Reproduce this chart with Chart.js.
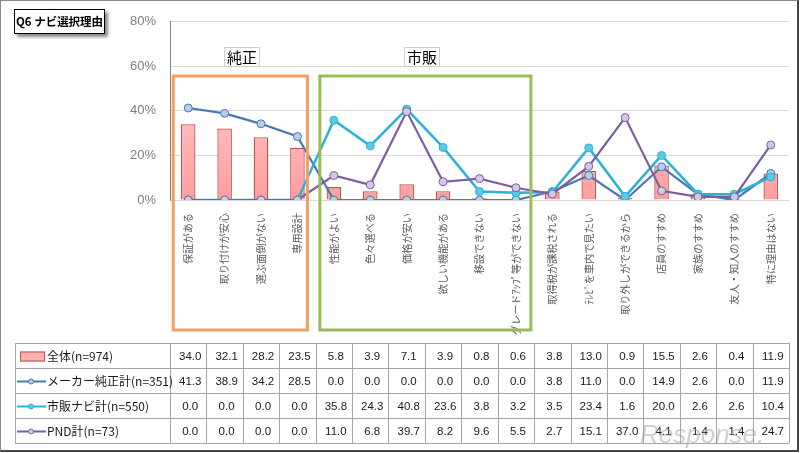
<!DOCTYPE html>
<html>
<head>
<meta charset="utf-8">
<script src="https://cdn.jsdelivr.net/npm/chart.js@4.4.0/dist/chart.umd.min.js"></script>
<style>
  html, body { margin: 0; padding: 0; background: #fff; }
  #wrap { position: relative; width: 800px; height: 453px; overflow: hidden; }
  #frame { position: absolute; left: 0; top: 0; width: 796px; height: 449px;
           border: 1px solid #8a8a8a; border-right: 2px solid #444; border-bottom: 2px solid #444; }
  #title { position: absolute; left: 14px; top: 9px; width: 89px; height: 23px; border: 1px solid #000;
           background: #fff; box-shadow: 3px 3px 3px #8c8c8c; font: bold 11.5px "Noto Sans CJK JP";
           line-height: 23px; text-align: center; color: #000; }
  .tag { position: absolute; top: 47px; height: 18px; padding: 0 2px; border: 1px solid #cfcfcf;
         background: #fff; font: 15px "Noto Sans CJK JP"; line-height: 18px; color: #000; }
  canvas { position: absolute; left: 0; top: 0; }
</style>
</head>
<body>
<div id="wrap">
  <canvas id="myChart" width="800" height="453"></canvas>
  <div id="frame"></div>
  <div id="title">Q6 ナビ選択理由</div>
  <div class="tag" style="left:224px">純正</div>
  <div class="tag" style="left:404px">市販</div>
</div>
<script>
// categories (x axis)
var categories = ["保証がある", "取り付けが安心", "選ぶ面倒がない", "専用設計", "性能がよい", "色々選べる",
  "価格が安い", "欲しい機能がある", "移設できない", "グレードｱｯﾌﾟ等ができない", "取得税が課税される",
  "ﾃﾚﾋﾞを車内で見たい", "取り外しができるから", "店員のすすめ", "家族のすすめ", "友人・知人のすすめ", "特に理由はない"];

// series values (%)
var allTotal  = [34.0, 32.1, 28.2, 23.5, 5.8, 3.9, 7.1, 3.9, 0.8, 0.6, 3.8, 13.0, 0.9, 15.5, 2.6, 0.4, 11.9];
var makerNavi = [41.3, 38.9, 34.2, 28.5, 0.0, 0.0, 0.0, 0.0, 0.0, 0.0, 3.8, 11.0, 0.0, 14.9, 2.6, 0.0, 11.9];
var shopNavi  = [0.0, 0.0, 0.0, 0.0, 35.8, 24.3, 40.8, 23.6, 3.8, 3.2, 3.5, 23.4, 1.6, 20.0, 2.6, 2.6, 10.4];
var pndNavi   = [0.0, 0.0, 0.0, 0.0, 11.0, 6.8, 39.7, 8.2, 9.6, 5.5, 2.7, 15.1, 37.0, 4.1, 1.4, 1.4, 24.7];

var seriesNames = ["全体(n=974)", "メーカー純正計(n=351)", "市販ナビ計(n=550)", "PND計(n=73)"];

// y axis ticks
var yTicks = [0, 20, 40, 60, 80];

var ctx = document.getElementById("myChart").getContext("2d");

// pink gradient for the bars (lighter at the top)
var barGrad = ctx.createLinearGradient(0, 40, 0, 200);
barGrad.addColorStop(0, "#ffdada");
barGrad.addColorStop(1, "#ff9e9e");

var lineColors = ["#4a78b0", "#2bb3d5", "#7b5fa0"];
var pointFills = ["#b9cdea", "#5cc9e6", "#d2c8e6"];

// orange / green group boxes + data table under the chart
var extrasPlugin = {
  id: "extras",
  afterDraw: function(chart) {
    var c = chart.ctx;
    var xs = chart.scales.x;
    var area = chart.chartArea;
    var step = (area.right - area.left) / categories.length;

    c.save();
    // group boxes
    c.lineWidth = 3;
    c.strokeStyle = "#f0a060";
    c.strokeRect(xs.getPixelForValue(0) - 15, 76, (xs.getPixelForValue(3) + 10) - (xs.getPixelForValue(0) - 15), 254);
    c.strokeStyle = "#9bbb59";
    c.strokeRect(xs.getPixelForValue(4) - 14, 76, (xs.getPixelForValue(9) + 15) - (xs.getPixelForValue(4) - 14), 254);

    // data table
    var top = 343, rowH = 25, left = 15;
    var rows = [allTotal, makerNavi, shopNavi, pndNavi];
    c.lineWidth = 1;
    c.strokeStyle = "#a6a6a6";
    for (var r = 0; r <= rows.length; r++) {
      c.beginPath();
      c.moveTo(left, top + r * rowH + 0.5);
      c.lineTo(area.right, top + r * rowH + 0.5);
      c.stroke();
    }
    c.beginPath();
    c.moveTo(left + 0.5, top);
    c.lineTo(left + 0.5, top + rows.length * rowH);
    c.stroke();
    for (var i = 0; i <= categories.length; i++) {
      var lx = Math.round(area.left + i * step) + 0.5;
      c.beginPath();
      c.moveTo(lx, top);
      c.lineTo(lx, top + rows.length * rowH);
      c.stroke();
    }

    c.textBaseline = "middle";
    for (var r = 0; r < rows.length; r++) {
      var cy = top + r * rowH + rowH / 2 + 1;
      // legend key
      if (r === 0) {
        c.fillStyle = "#ffb0b0";
        c.strokeStyle = "#c0504d";
        c.fillRect(20, cy - 5, 25, 10);
        c.strokeRect(20.5, cy - 4.5, 24, 9);
      } else {
        c.strokeStyle = lineColors[r - 1];
        c.lineWidth = 2;
        c.beginPath();
        c.moveTo(17, cy);
        c.lineTo(46, cy);
        c.stroke();
        c.lineWidth = 1;
        c.fillStyle = pointFills[r - 1];
        c.beginPath();
        c.arc(31, cy, 2.5, 0, Math.PI * 2);
        c.fill();
        c.stroke();
      }
      c.fillStyle = "#1a1a1a";
      c.font = "12px 'Noto Sans CJK JP'";
      c.textAlign = "left";
      c.fillText(seriesNames[r], 47, cy);

      c.font = "11.5px 'Liberation Sans'";
      c.textAlign = "center";
      for (var i = 0; i < categories.length; i++) {
        c.fillText(rows[r][i].toFixed(1), xs.getPixelForValue(i) + 2, cy);
      }
    }

    // watermark
    c.font = "italic 26px 'Liberation Sans'";
    c.fillStyle = "rgba(150,150,150,0.45)";
    c.textAlign = "left";
    c.fillText("Response.", 640, 436);
    c.restore();
  }
};

function lineSet(label, data, idx, order, width) {
  return {
    type: "line",
    label: label,
    data: data,
    borderColor: lineColors[idx],
    backgroundColor: pointFills[idx],
    borderWidth: width,
    pointRadius: 4,
    pointBorderWidth: 1,
    pointBorderColor: lineColors[idx],
    pointBackgroundColor: pointFills[idx],
    tension: 0,
    order: order
  };
}

var myChart = new Chart(ctx, {
  type: "bar",
  data: {
    labels: categories,
    datasets: [
      {
        label: seriesNames[0],
        data: allTotal,
        backgroundColor: barGrad,
        borderColor: "#c0504d",
        borderWidth: 1.3,
        barPercentage: 0.4,
        categoryPercentage: 1,
        order: 4
      },
      lineSet(seriesNames[1], makerNavi, 0, 3, 2.2),
      lineSet(seriesNames[2], shopNavi, 1, 2, 2.5),
      lineSet(seriesNames[3], pndNavi, 2, 1, 2.2)
    ]
  },
  plugins: [extrasPlugin],
  options: {
    responsive: false,
    animation: false,
    layout: { padding: { left: 0, right: 11, top: 19, bottom: 118 } },
    plugins: {
      legend: { display: false },
      tooltip: { enabled: false }
    },
    scales: {
      x: {
        offset: true,
        grid: { display: false },
        border: { display: false },
        ticks: {
          autoSkip: false,
          minRotation: 90,
          maxRotation: 90,
          padding: 5,
          color: "#595959",
          font: { family: "Noto Sans CJK JP", size: 10.2 }
        },
        afterFit: function(scale) { scale.height = 135; }
      },
      y: {
        min: yTicks[0],
        max: yTicks[yTicks.length - 1],
        afterBuildTicks: function(scale) {
          scale.ticks = yTicks.map(function(v) { return { value: v }; });
        },
        grid: { color: "#d9d9d9", drawTicks: false },
        border: { display: true, color: "#868686" },
        ticks: {
          padding: 14,
          color: "#7f7f7f",
          font: { family: "Liberation Sans", size: 13 },
          callback: function(v) { return v + "%"; }
        },
        afterFit: function(scale) { scale.width = 170; }
      }
    }
  }
});
</script>
</body>
</html>
